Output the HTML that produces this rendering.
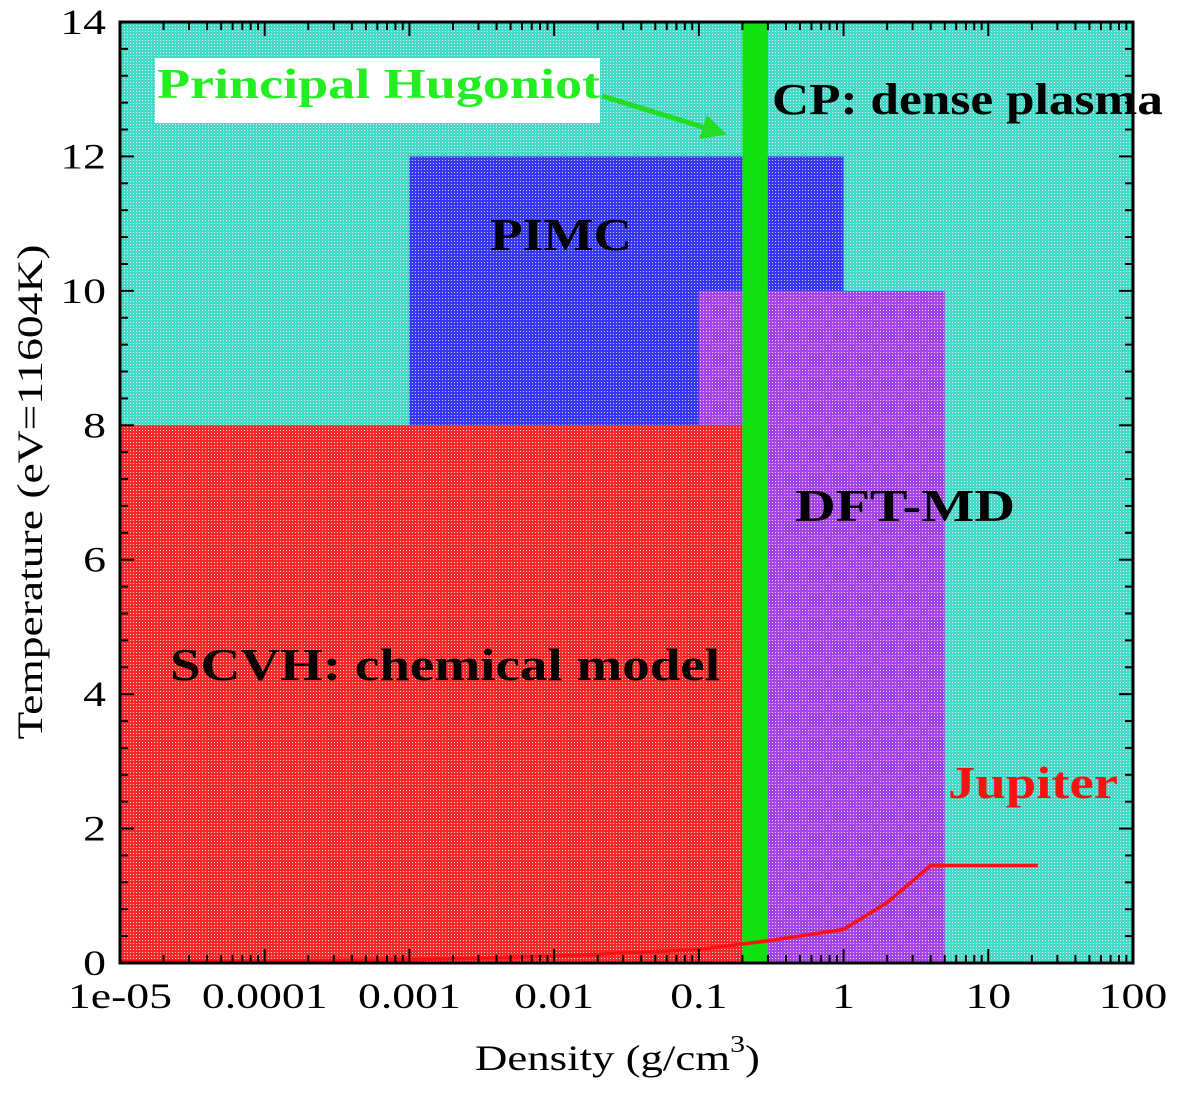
<!DOCTYPE html>
<html><head><meta charset="utf-8"><style>
body{margin:0;background:#fff;width:1200px;height:1090px;overflow:hidden}
svg text{font-family:"Liberation Serif",serif}
</style></head><body>
<svg id="chart" width="1200" height="1090">
<defs>
<pattern id="pc" width="3" height="3" patternUnits="userSpaceOnUse"><rect width="3" height="3" fill="#48d8c8"/><rect x="1" y="1" width="1" height="1" fill="#d8f6f2"/></pattern>
<pattern id="pb" width="3" height="3" patternUnits="userSpaceOnUse"><rect width="3" height="3" fill="#3838ee"/><rect x="1" y="1" width="1" height="1" fill="#c8c8ff"/></pattern>
<pattern id="pp" width="3" height="3" patternUnits="userSpaceOnUse"><rect width="3" height="3" fill="#a444e6"/><rect x="1" y="1" width="1" height="1" fill="#ecd8fa"/></pattern>
<pattern id="pr" width="3" height="3" patternUnits="userSpaceOnUse"><rect width="3" height="3" fill="#f42a2a"/><rect x="1" y="1" width="1" height="1" fill="#ffd0d0"/></pattern>
<marker id="ah" markerWidth="6" markerHeight="6" refX="4" refY="3" orient="auto" markerUnits="strokeWidth"><path d="M0,0.5 L5,3 L0,5.5 z" fill="#22dd22"/></marker>
</defs>
<g id="plot"></g>
</svg>
<script>
const xTicks=[1e-5,1e-4,1e-3,0.01,0.1,1,10,100];
const xTickLabels=["1e-05","0.0001","0.001","0.01","0.1","1","10","100"];
const yTicks=[0,2,4,6,8,10,12,14];
const regionNames=["cp-dense-plasma","pimc","dft-md","scvh-chemical-model","principal-hugoniot"];
const regionX0=[1e-5,0.001,0.1,1e-5,0.2];
const regionX1=[100,1,5,0.2,0.3];
const regionY0=[0,8,0,0,0];
const regionY1=[14,12,10,8,14];
const regionFill=["url(#pc)","url(#pb)","url(#pp)","url(#pr)","#11e011"];
const jupiterDensity=[1e-5,1e-4,1e-3,0.01,0.1,0.3,1,2,4,22];
const jupiterTemp=[0.02,0.03,0.05,0.1,0.2,0.33,0.5,0.9,1.45,1.45];

const L=120,R=1133,T=22,B=963;
const X=v=>L+(Math.log10(v)+5)/7*(R-L);
const Y=v=>B-v/14*(B-T);
const NS="http://www.w3.org/2000/svg";
const g=document.getElementById('plot');
function mk(tag,attrs,parent){const e=document.createElementNS(NS,tag);for(const k in attrs)e.setAttribute(k,attrs[k]);(parent||g).appendChild(e);return e;}
function widen(t){const w=t.getComputedTextLength();t.setAttribute('textLength',w*1.27);t.setAttribute('lengthAdjust','spacingAndGlyphs');}

regionNames.forEach((n,i)=>{
 const r=mk('rect',{x:X(regionX0[i]),y:Y(regionY1[i]),width:X(regionX1[i])-X(regionX0[i]),height:Y(regionY0[i])-Y(regionY1[i]),fill:regionFill[i]});
 
 
});
const jp=mk('polyline',{points:jupiterDensity.map((d,i)=>X(d)+','+Y(jupiterTemp[i])).join(' '),fill:'none',stroke:'#ff1010','stroke-width':3.5});



const fr=mk('rect',{x:L,y:T,width:R-L,height:B-T,fill:'none',stroke:'#000','stroke-width':3});



xTicks.forEach((v,i)=>{
 const x=X(v);
 mk('line',{x1:x,y1:B,x2:x,y2:B-14,stroke:'#000','stroke-width':2});
 mk('line',{x1:x,y1:T,x2:x,y2:T+14,stroke:'#000','stroke-width':2});
 if(i<xTicks.length-1){for(let m=2;m<10;m++){const xm=X(v*m);
  mk('line',{x1:xm,y1:B,x2:xm,y2:B-8,stroke:'#000','stroke-width':2});
  mk('line',{x1:xm,y1:T,x2:xm,y2:T+8,stroke:'#000','stroke-width':2});}}
 const t=mk('text',{x:x,y:1008,'text-anchor':'middle','font-size':36});
 t.textContent=xTickLabels[i];
 
 
 widen(t);
});
yTicks.forEach((v,i)=>{
 const y=Y(v);
 mk('line',{x1:L,y1:y,x2:L+14,y2:y,stroke:'#000','stroke-width':2});
 mk('line',{x1:R,y1:y,x2:R-14,y2:y,stroke:'#000','stroke-width':2});
 if(i<yTicks.length-1){for(let m=1;m<5;m++){const ym=Y(v+m*0.4);
  mk('line',{x1:L,y1:ym,x2:L+8,y2:ym,stroke:'#000','stroke-width':2});
  mk('line',{x1:R,y1:ym,x2:R-8,y2:ym,stroke:'#000','stroke-width':2});}}
 const t=mk('text',{x:106,y:y+12,'text-anchor':'end','font-size':36});
 t.textContent=String(v);
 
 
 widen(t);
});
</script>
<svg width="1200" height="1090" style="position:absolute;left:0;top:0">
<rect x="155" y="58" width="445" height="65" fill="#fff"/>
<text x="157" y="98" font-size="42" font-weight="bold" fill="#22ee22" textLength="443" lengthAdjust="spacingAndGlyphs">Principal Hugoniot</text>
<line x1="602" y1="96" x2="722" y2="133" stroke="#22dd22" stroke-width="5" marker-end="url(#ah)"/>
<text x="772" y="114" font-size="44" font-weight="bold" textLength="391" lengthAdjust="spacingAndGlyphs">CP: dense plasma</text>
<text x="490" y="250" font-size="46" font-weight="bold" textLength="142" lengthAdjust="spacingAndGlyphs">PIMC</text>
<text x="795" y="521" font-size="46" font-weight="bold" textLength="220" lengthAdjust="spacingAndGlyphs">DFT-MD</text>
<text x="170" y="680" font-size="46" font-weight="bold" textLength="550" lengthAdjust="spacingAndGlyphs">SCVH: chemical model</text>
<text x="948" y="798" font-size="46" font-weight="bold" fill="#ff1010" textLength="170" lengthAdjust="spacingAndGlyphs">Jupiter</text>
<text x="475" y="1070" font-size="36" textLength="285" lengthAdjust="spacingAndGlyphs">Density  (g/cm<tspan dy="-18" font-size="24">3</tspan><tspan dy="18">)</tspan></text>
<text transform="translate(42,492) rotate(-90)" text-anchor="middle" font-size="36" textLength="495" lengthAdjust="spacingAndGlyphs">Temperature (eV=11604K)</text>
</svg>
</body></html>
